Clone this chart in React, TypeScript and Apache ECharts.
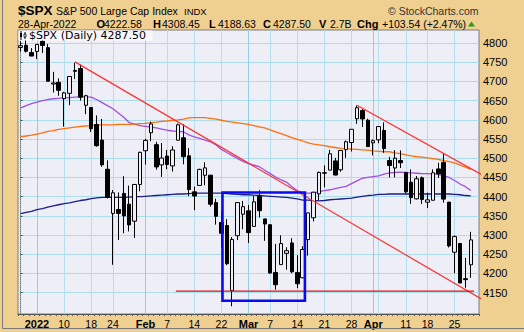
import React, { useEffect, useRef } from "react";
import * as echarts from "echarts";

const FONT = "'Liberation Sans', Arial, Helvetica, sans-serif";
const WIDE_FONT = "'DejaVu Sans', Verdana, sans-serif";

const dates = [
  "2021-12-29", "2021-12-30", "2021-12-31",
  "2022-01-03", "2022-01-04", "2022-01-05", "2022-01-06", "2022-01-07", "2022-01-10", "2022-01-11", "2022-01-12", "2022-01-13", "2022-01-14",
  "2022-01-18", "2022-01-19", "2022-01-20", "2022-01-21", "2022-01-24", "2022-01-25", "2022-01-26", "2022-01-27", "2022-01-28", "2022-01-31",
  "2022-02-01", "2022-02-02", "2022-02-03", "2022-02-04", "2022-02-07", "2022-02-08", "2022-02-09", "2022-02-10", "2022-02-11",
  "2022-02-14", "2022-02-15", "2022-02-16", "2022-02-17", "2022-02-18", "2022-02-22", "2022-02-23", "2022-02-24", "2022-02-25", "2022-02-28",
  "2022-03-01", "2022-03-02", "2022-03-03", "2022-03-04", "2022-03-07", "2022-03-08", "2022-03-09", "2022-03-10", "2022-03-11",
  "2022-03-14", "2022-03-15", "2022-03-16", "2022-03-17", "2022-03-18", "2022-03-21", "2022-03-22", "2022-03-23", "2022-03-24", "2022-03-25",
  "2022-03-28", "2022-03-29", "2022-03-30", "2022-03-31",
  "2022-04-01", "2022-04-04", "2022-04-05", "2022-04-06", "2022-04-07", "2022-04-08", "2022-04-11", "2022-04-12", "2022-04-13", "2022-04-14",
  "2022-04-18", "2022-04-19", "2022-04-20", "2022-04-21", "2022-04-22", "2022-04-25", "2022-04-26", "2022-04-27", "2022-04-28",
  "",
];

const opens = [
  4788.64, 4794.23, 4775.21,
  4778.14, 4804.51, 4787.99, 4693.39, 4697.66, 4655.34, 4669.14, 4728.59, 4733.56, 4637.99,
  4632.24, 4588.03, 4547.35, 4471.38, 4356.32, 4366.64, 4408.43, 4380.58, 4336.19, 4431.79,
  4519.57, 4566.39, 4535.41, 4482.79, 4505.75, 4480.02, 4547.0, 4553.24, 4506.27,
  4412.61, 4429.28, 4455.75, 4456.06, 4384.57, 4332.74, 4324.93, 4155.77, 4298.38, 4354.17,
  4363.14, 4322.56, 4401.31, 4342.12, 4327.01, 4202.66, 4223.1, 4252.55, 4279.5,
  4202.75, 4188.82, 4288.14, 4345.11, 4407.34, 4462.4, 4469.1, 4493.1, 4469.98, 4522.66,
  4541.09, 4602.86, 4624.2, 4599.02,
  4540.32, 4547.97, 4572.45, 4494.17, 4474.65, 4494.15, 4462.64, 4437.59, 4394.3, 4449.12,
  4385.63, 4390.63, 4472.26, 4489.17, 4385.83, 4255.34, 4278.14, 4186.52, 4222.58,
];
const highs = [
  4804.06, 4808.93, 4786.83,
  4796.64, 4818.62, 4797.7, 4725.01, 4707.95, 4673.02, 4714.13, 4748.83, 4744.13, 4665.13,
  4632.24, 4611.55, 4602.11, 4494.52, 4417.35, 4411.01, 4453.23, 4428.74, 4432.72, 4516.89,
  4550.49, 4595.31, 4542.88, 4539.66, 4521.86, 4531.32, 4590.03, 4588.92, 4526.33,
  4426.22, 4472.77, 4489.55, 4456.06, 4394.6, 4362.12, 4341.51, 4294.73, 4385.34, 4388.84,
  4378.45, 4401.48, 4416.78, 4342.12, 4327.01, 4276.94, 4299.4, 4268.28, 4291.86,
  4247.57, 4271.05, 4357.86, 4412.67, 4465.4, 4481.75, 4522.0, 4501.07, 4520.58, 4546.03,
  4575.65, 4637.3, 4627.77, 4603.07,
  4548.7, 4583.5, 4593.45, 4503.94, 4521.16, 4520.41, 4464.35, 4471.0, 4453.92, 4452.61,
  4410.31, 4471.03, 4488.29, 4512.94, 4385.83, 4299.02, 4278.14, 4240.71, 4308.45,
];
const lows = [
  4778.08, 4775.33, 4765.75,
  4758.17, 4774.27, 4699.44, 4671.26, 4662.74, 4582.24, 4638.27, 4706.71, 4650.29, 4614.75,
  4568.7, 4530.2, 4477.95, 4395.34, 4222.62, 4287.11, 4304.8, 4309.5, 4292.46, 4414.02,
  4483.53, 4544.32, 4470.39, 4451.5, 4471.47, 4465.4, 4547.0, 4484.31, 4401.41,
  4364.84, 4429.28, 4429.68, 4373.81, 4327.22, 4267.11, 4221.51, 4114.65, 4286.83, 4315.12,
  4279.54, 4322.56, 4345.56, 4284.98, 4199.85, 4157.87, 4223.1, 4209.8, 4200.49,
  4161.72, 4187.9, 4246.58, 4335.65, 4390.57, 4424.3, 4469.1, 4455.81, 4465.17, 4501.07,
  4517.69, 4589.66, 4581.32, 4530.41,
  4507.57, 4539.21, 4514.17, 4450.04, 4450.3, 4474.6, 4408.38, 4381.34, 4392.7, 4381.11,
  4370.3, 4390.63, 4448.76, 4384.47, 4267.62, 4200.82, 4175.04, 4162.9, 4188.63,
];
const closes = [
  4793.06, 4778.73, 4766.18,
  4796.56, 4793.54, 4700.58, 4696.05, 4677.03, 4670.29, 4713.07, 4726.35, 4659.03, 4662.85,
  4577.11, 4532.76, 4482.73, 4397.94, 4410.13, 4356.45, 4349.93, 4326.51, 4431.85, 4515.55,
  4546.54, 4589.38, 4477.44, 4500.53, 4483.87, 4521.54, 4587.18, 4504.08, 4418.64,
  4401.67, 4471.07, 4475.01, 4380.26, 4348.87, 4304.76, 4225.5, 4288.7, 4384.65, 4373.94,
  4306.26, 4386.54, 4363.49, 4328.87, 4201.09, 4170.7, 4277.88, 4259.52, 4204.31,
  4173.11, 4262.45, 4357.86, 4411.67, 4463.12, 4461.18, 4511.61, 4456.24, 4520.16, 4543.06,
  4575.52, 4631.6, 4602.45, 4530.41,
  4545.86, 4582.64, 4525.12, 4481.15, 4500.21, 4488.28, 4412.53, 4397.45, 4446.59, 4392.59,
  4391.69, 4462.21, 4459.45, 4393.66, 4271.78, 4296.12, 4175.2, 4183.96, 4287.5,
];

// moving averages (purple, orange, navy)
const maPurple = [
  4631, 4637, 4642, 4646, 4650, 4653, 4655, 4656, 4657, 4658,
  4659, 4660, 4660, 4659, 4653, 4645, 4637, 4629, 4618, 4607,
  4593, 4589, 4585, 4583, 4581, 4579, 4576, 4573, 4571, 4570,
  4569, 4561, 4556, 4552, 4547, 4543, 4535, 4523, 4515, 4507,
  4499, 4492, 4486, 4482, 4478, 4469, 4460, 4451, 4444, 4438,
  4426, 4416, 4409, 4409, 4409, 4413, 4416, 4418, 4421, 4424,
  4427, 4434, 4441, 4448, 4450, 4452, 4454, 4459, 4462, 4463,
  4464, 4463, 4462, 4461, 4460, 4460, 4459, 4458, 4454, 4450,
  4442, 4433, 4426, 4416,
];
const maOrange = [
  4556, 4558, 4560, 4563, 4566, 4570, 4572, 4575, 4577, 4579,
  4581, 4583, 4584, 4585, 4587, 4587, 4587, 4587, 4588, 4588,
  4588, 4589, 4590, 4591, 4593, 4594, 4596, 4597, 4599, 4600,
  4602, 4605, 4606, 4606, 4606, 4604, 4602, 4599, 4596, 4594,
  4592, 4590, 4588, 4585, 4582, 4579, 4574, 4569, 4564, 4559,
  4554, 4549, 4545, 4540, 4537, 4535, 4533, 4530, 4528, 4526,
  4525, 4524, 4523, 4522, 4521, 4519, 4518, 4517, 4517, 4514,
  4512, 4509, 4506, 4504, 4503, 4501, 4499, 4497, 4494, 4491,
  4488, 4482, 4477, 4471,
];
const maNavy = [
  4356, 4359, 4362, 4366, 4369, 4373, 4376, 4379, 4382, 4384,
  4387, 4390, 4392, 4395, 4397, 4398, 4398, 4398, 4398, 4398,
  4399, 4400, 4400, 4401, 4402, 4403, 4404, 4405, 4406, 4407,
  4407, 4408, 4409, 4409, 4409, 4409, 4409, 4409, 4408, 4407,
  4406, 4405, 4405, 4404, 4403, 4402, 4401, 4400, 4399, 4398,
  4396, 4394, 4391, 4391, 4390, 4389, 4390, 4392, 4393, 4394,
  4395, 4396, 4399, 4401, 4403, 4404, 4406, 4406, 4407, 4407,
  4407, 4407, 4407, 4407, 4407, 4407, 4407, 4407, 4407, 4407,
  4406, 4405, 4403, 4402,
];

const yTicks = [4150, 4200, 4250, 4300, 4350, 4400, 4450, 4500, 4550, 4600, 4650, 4700, 4750, 4800];

const labelDates = [
  "2022-01-03", "2022-01-10", "2022-01-18", "2022-01-24", "2022-02-01", "2022-02-07", "2022-02-14", "2022-02-22",
  "2022-03-01", "2022-03-07", "2022-03-14", "2022-03-21", "2022-03-28", "2022-04-01", "2022-04-11", "2022-04-18", "2022-04-25",
];
const labelTexts = ["2022", "10", "18", "24", "Feb", "7", "14", "22", "Mar", "7", "14", "21", "28", "Apr", "11", "18", "25"];
const boldLabels = ["2022", "Feb", "Mar", "Apr"];
const gridDates = [...labelDates, "2022-04-04"];
const monthDates = ["2022-01-03", "2022-02-01", "2022-03-01", "2022-04-01"];

// annotations: [category position, price]
const trendA = [[10, 4751], [86.1, 4124]];
const trendB = [[62, 4638], [88.5, 4430]];
const supportLine = [[28.6, 4154], [83.6, 4154]];
const boxLeft = 37.2;
const boxRight = 52.4;
const boxTop = 4411;
const boxBottom = 4129;

export default function App() {
  const ref = useRef<HTMLDivElement>(null);
  useEffect(() => {
    if (!ref.current) return;
    const chart = echarts.init(ref.current, null, { renderer: "svg" });
    const candles = opens.map((o, i) => [o, closes[i], lows[i], highs[i]]);
    const lineBase = (data: any, color: string, width: number, z = 2) => ({
      type: "line",
      data,
      showSymbol: false,
      symbol: "none",
      lineStyle: { color, width },
      itemStyle: { color },
      z,
      silent: true,
    });
    const txt = (text: string, x: number, y: number, size: number, bold = false, fill = "#000", family = FONT) => ({
      type: "text",
      x,
      y,
      z: 100,
      style: {
        text,
        fill,
        font: `${bold ? "bold " : ""}${size}px ${family}`,
        textVerticalAlign: "middle",
      },
    });
    const option: any = {
      animation: false,
      backgroundColor: "#F0D091",
      grid: {
        left: 18,
        right: 45,
        top: 30,
        bottom: 18,
        show: true,
        backgroundColor: "#EEEEF6",
        borderColor: "#7a7a7a",
        borderWidth: 1,
      },
      xAxis: [
        {
          type: "category",
          data: dates,
          boundaryGap: true,
          axisLine: { show: true, lineStyle: { color: "#555" } },
          axisTick: { show: true, interval: 0, length: 2, lineStyle: { color: "#555" } },
          axisLabel: {
            interval: (_i: number, v: string) => labelDates.includes(v),
            formatter: (v: string) => {
              const i = labelDates.indexOf(v);
              if (i < 0) return "";
              const t = labelTexts[i];
              return boldLabels.includes(t) ? `{b|${t}}` : `{n|${t}}`;
            },
            margin: 4,
            color: "#000",
            fontSize: 10.5,
            fontFamily: FONT,
            rich: {
              b: { fontWeight: "bold", fontSize: 11, fontFamily: FONT, color: "#000" },
              n: { fontSize: 10.5, fontFamily: FONT, color: "#000" },
            },
          },
          splitLine: { show: false },
        },
        { type: "value", min: -0.5, max: 84.5, show: false },
      ],
      yAxis: {
        type: "value",
        position: "right",
        min: 4094.5,
        max: 4834,
        axisLine: { show: true, lineStyle: { color: "#777", type: "dotted" } },
        axisTick: { show: true, length: 2, customValues: yTicks, lineStyle: { color: "#555" } },
        axisLabel: {
          customValues: yTicks,
          formatter: (v: number) => String(Math.round(v)),
          color: "#000",
          fontSize: 11,
          fontFamily: FONT,
          margin: 4,
        },
        splitLine: { show: true, lineStyle: { color: "#ADDCEB", width: 1 } },
      },
      series: [
        {
          type: "candlestick",
          data: candles,
          barWidth: 4,
          z: 3,
          silent: true,
          itemStyle: {
            color: "#EEEEF6",
            color0: "#000",
            borderColor: "#000",
            borderColor0: "#000",
            borderWidth: 1,
          },
        },
        lineBase(maPurple, "#A04FE3", 1.3),
        lineBase(maOrange, "#FF6F0F", 1.3),
        {
          ...lineBase(maNavy, "#1C1C8E", 1.3),
          markLine: {
            silent: true,
            symbol: "none",
            z: 1,
            label: { show: false },
            data: gridDates.map((d) => ({
              xAxis: d,
              lineStyle: {
                color: monthDates.includes(d) ? "#8FCDE8" : "#B3E0EE",
                width: 1,
                type: "solid",
              },
            })),
          },
        },
        { ...lineBase(trendA, "#FF3030", 1.2, 4), xAxisIndex: 1, clip: false },
        { ...lineBase(trendB, "#FF3030", 1.2, 4), xAxisIndex: 1, clip: false },
        { ...lineBase(supportLine, "#E80E0E", 1.2, 4), xAxisIndex: 1, clip: false },
        {
          ...lineBase(
            [
              [boxLeft, boxTop],
              [boxRight, boxTop],
              [boxRight, boxBottom],
              [boxLeft, boxBottom],
              [boxLeft, boxTop],
            ],
            "#0A0AF0",
            2.6,
            5
          ),
          xAxisIndex: 1,
          lineStyle: { color: "#0A0AF0", width: 2.6, cap: "square", join: "miter" },
        },
      ],
      graphic: [
        {
          type: "polyline",
          z: 100,
          shape: { points: [[2.5, 0], [2.5, 328.5], [524, 328.5]] },
          style: { stroke: "#7a7a7a", lineWidth: 1, fill: "none" },
        },
        txt("$SPX", 18, 10.5, 13.5, true),
        txt("S&P 500 Large Cap Index", 56, 10.5, 10.5),
        txt("INDX", 184, 11, 9.5),
        txt("© StockCharts.com", 388, 10.5, 10.5, false, "#333"),
        txt("28-Apr-2022", 18, 24, 10.5),
        txt("O", 96.5, 24, 11, true),
        txt("4222.58", 104, 24, 10.5),
        txt("H", 153, 24, 11, true),
        txt("4308.45", 162, 24, 10.5),
        txt("L", 209, 24, 11, true),
        txt("4188.63", 218, 24, 10.5),
        txt("C", 263, 24, 11, true),
        txt("4287.50", 273, 24, 10.5),
        txt("V", 319, 24, 11, true),
        txt("2.7B", 330, 24, 10.5),
        txt("Chg", 357, 24, 11, true),
        txt("+103.54 (+2.47%)", 382, 24, 10.5),
        {
          type: "polygon",
          z: 100,
          shape: { points: [[468, 26.5], [475, 26.5], [471.5, 21.5]] },
          style: { fill: "#1E9E1E" },
        },
        {
          type: "rect",
          z: 99,
          shape: { x: 18.5, y: 30.5, width: 134, height: 10 },
          style: { fill: "#F9F9FD" },
        },
        { type: "line", z: 100, shape: { x1: 21, y1: 31, x2: 21, y2: 40 }, style: { stroke: "#000", lineWidth: 1 } },
        { type: "rect", z: 100, shape: { x: 20, y: 33, width: 2, height: 4 }, style: { fill: "#000" } },
        { type: "line", z: 100, shape: { x1: 25, y1: 32, x2: 25, y2: 39 }, style: { stroke: "#000", lineWidth: 1 } },
        { type: "rect", z: 100, shape: { x: 24, y: 34, width: 2, height: 3 }, style: { fill: "#fff", stroke: "#000", lineWidth: 0.8 } },
        txt("$SPX (Daily) 4287.50", 29, 35.5, 11, false, "#000", WIDE_FONT),
      ],
    };
    chart.setOption(option);
    return () => chart.dispose();
  }, []);
  return <div ref={ref} style={{ position: "fixed", left: 0, top: 0, width: 524, height: 332 }} />;
}
